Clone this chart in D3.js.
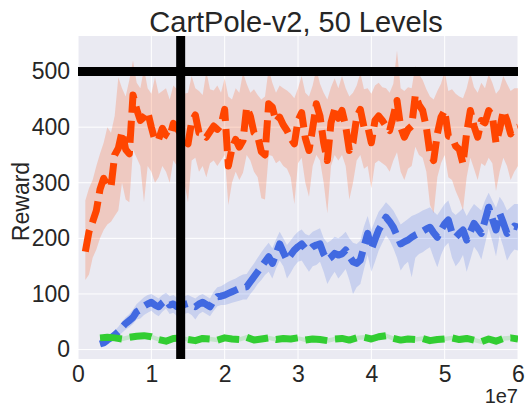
<!DOCTYPE html>
<html>
<head>
<meta charset="utf-8">
<script src="https://cdn.jsdelivr.net/npm/d3@7"></script>
<style>
  html, body { margin: 0; padding: 0; background: #ffffff; }
  svg { display: block; }
  text { font-family: "Liberation Sans", Arial, sans-serif; fill: #262626; }
</style>
</head>
<body>
<svg id="chart" width="525" height="406"></svg>
<script>
// Evaluation steps, in millions of environment steps (half-million spacing)
const orangeSteps = d3.range(1, 60.25, 0.5);   // 1.0 .. 60.0
const blueSteps = d3.range(3, 60.25, 0.5);     // 3.0 .. 60.0
const greenSteps = d3.range(3, 60.5, 1);       // 3 .. 60

// Orange run: mean reward and spread
const orangeMean = [176,212,230,250,288,308,296,292,350,362,
  392,360,352,458,432,412,418,428,400,376,
  378,398,386,382,407,398,388,376,370,410,
  422,390,388,382,392,402,396,404,432,330,
  362,378,364,376,436,420,390,384,356,350,
  442,436,410,418,404,394,380,370,412,426,
  380,358,398,442,420,372,340,408,432,416,
  430,402,358,372,418,432,400,402,372,412,
  420,412,402,394,420,448,400,382,396,402,
  458,440,430,400,352,340,388,418,430,384,
  382,366,360,334,390,430,402,382,412,408,
  430,420,372,396,430,412,388,398,400];
const orangeHigh = [268,290,305,330,352,372,400,390,420,490,
  470,455,485,520,480,470,505,470,460,490,
  460,465,470,450,475,468,470,460,462,492,
  470,465,458,500,468,466,475,462,488,455,
  450,470,462,498,478,462,468,458,450,455,
  505,480,462,475,470,466,460,452,470,492,
  462,455,475,505,478,462,450,472,488,470,
  492,470,455,462,475,498,468,470,460,475,
  480,472,470,462,478,538,470,465,472,470,
  510,495,485,468,455,450,465,478,500,465,
  468,460,455,452,470,498,472,462,480,470,
  495,480,460,468,492,478,465,470,470];
const orangeLow = [125,135,165,180,200,215,225,230,240,250,
  300,270,265,360,345,330,265,330,320,300,
  310,330,320,300,340,330,320,300,265,340,
  345,320,330,310,335,340,330,340,350,260,
  300,320,305,318,350,340,320,310,272,270,
  350,348,335,340,330,325,310,262,335,345,
  300,275,330,350,340,300,245,330,350,340,
  350,330,270,300,340,350,325,330,290,335,
  340,335,330,320,340,355,320,305,325,330,
  365,350,345,320,260,245,310,335,350,310,
  305,285,270,250,310,345,325,305,335,330,
  345,335,285,320,345,330,305,320,330];

// Blue run
const blueMean = [10,12,17,21,26,32,40,47,52,58,
  68,72,78,82,85,80,77,84,89,80,
  82,77,76,81,83,79,77,82,85,81,
  77,88,95,96,98,101,104,107,110,112,
  113,122,131,140,149,158,167,155,172,190,
  175,161,170,179,185,190,182,179,185,188,
  190,172,161,166,173,170,172,179,168,158,
  155,161,185,209,180,198,215,226,238,230,
  220,205,190,194,197,202,206,209,213,217,
  220,210,202,215,226,233,210,202,209,215,
  197,212,227,218,209,232,256,235,215,245,
  228,209,215,222,220];
const blueHigh = [14,17,23,28,34,41,50,58,64,72,
  82,88,94,98,100,96,92,98,102,96,
  98,93,92,96,98,95,92,97,100,96,
  92,104,112,114,118,122,125,128,132,135,
  136,146,155,165,175,184,192,182,198,212,
  200,188,196,205,212,216,208,205,212,215,
  218,200,192,196,203,200,205,212,200,192,
  190,196,222,240,215,232,248,256,265,258,
  250,238,225,230,235,240,243,246,250,253,
  256,248,242,252,262,268,248,242,248,254,
  240,252,262,256,250,268,282,268,255,275,
  265,250,256,262,262];
const blueLow = [6,8,12,15,19,24,30,36,40,46,
  54,56,62,66,70,64,60,68,74,64,
  66,60,58,64,66,62,54,64,68,64,
  60,70,78,80,80,82,84,86,88,90,
  90,100,108,118,125,134,140,128,146,160,
  150,128,138,150,158,160,150,140,150,152,
  158,140,118,130,140,128,136,145,125,100,
  112,118,145,170,140,158,178,192,205,196,
  182,165,142,152,158,130,165,172,175,180,
  184,165,148,170,185,192,165,150,158,170,
  140,162,185,176,162,190,218,195,168,205,
  185,160,172,180,178];

// Green run
const greenMean = [21,22,21,19,22,24,25,23,
  18,15,20,21,18,16,20,19,17,21,
  19,18,22,17,19,21,18,20,19,21,
  17,19,18,16,19,20,17,21,22,19,
  23,25,20,17,19,18,20,16,18,19,
  21,18,20,17,14,19,15,20,21,19];
const greenHigh = [25,26,24,23,26,27,29,27,
  22,19,24,25,22,20,23,23,21,25,
  23,22,26,21,22,25,22,24,23,24,
  21,23,22,20,23,24,21,25,26,23,
  27,29,24,21,23,22,24,20,22,23,
  25,22,24,21,18,23,19,24,25,23];
const greenLow = [17,18,17,15,18,20,21,19,
  14,11,16,17,14,12,16,15,13,17,
  15,14,18,13,15,17,14,16,15,17,
  13,15,14,12,15,16,13,17,18,15,
  19,21,16,13,15,14,16,12,14,15,
  17,14,16,13,10,15,11,16,17,15];

// Axis ticks and reference markers
const xTicks = [0, 1e7, 2e7, 3e7, 4e7, 5e7, 6e7];
const yTicks = [0, 100, 200, 300, 400, 500];
const targetReward = 500;
const markerStep = 1.4e7;

const margin = {left: 78, right: 7, top: 36, bottom: 47};
const W = 525, H = 406;
const svg = d3.select("#chart");

const x = d3.scaleLinear().domain([0, 6e7]).range([margin.left, W - margin.right]);
const y = d3.scaleLinear().domain([-17, 564]).range([H - margin.bottom, margin.top]);

// Plot background
svg.append("rect")
  .attr("x", x.range()[0]).attr("y", y.range()[1])
  .attr("width", x.range()[1] - x.range()[0])
  .attr("height", y.range()[0] - y.range()[1])
  .attr("fill", "#EAEAF2");

// White grid
const grid = svg.append("g");
grid.selectAll(".gx").data(xTicks).join("line")
  .attr("x1", d => x(d)).attr("x2", d => x(d))
  .attr("y1", y.range()[1]).attr("y2", y.range()[0])
  .attr("stroke", "#ffffff").attr("stroke-width", 1);
grid.selectAll(".gy").data(yTicks).join("line")
  .attr("x1", x.range()[0]).attr("x2", x.range()[1])
  .attr("y1", d => y(d)).attr("y2", d => y(d))
  .attr("stroke", "#ffffff").attr("stroke-width", 1);

svg.append("clipPath").attr("id", "plotclip").append("rect")
  .attr("x", x.range()[0]).attr("y", y.range()[1])
  .attr("width", x.range()[1] - x.range()[0])
  .attr("height", y.range()[0] - y.range()[1]);

const plot = svg.append("g").attr("clip-path", "url(#plotclip)");

function build(steps, mean, lo, hi) {
  return steps.map((s, i) => ({t: s * 1e6, m: mean[i], lo: lo[i], hi: hi[i]}));
}

const series = [
  {data: build(orangeSteps, orangeMean, orangeLow, orangeHigh), color: "#FF4500"},
  {data: build(blueSteps, blueMean, blueLow, blueHigh), color: "#4169E1"},
  {data: build(greenSteps, greenMean, greenLow, greenHigh), color: "#32CD32"}
];

const area = d3.area().x(d => x(d.t)).y0(d => y(d.lo)).y1(d => y(d.hi));
const line = d3.line().x(d => x(d.t)).y(d => y(d.m));

series.forEach(s => {
  plot.append("path").datum(s.data)
    .attr("d", area)
    .attr("fill", s.color).attr("fill-opacity", 0.2).attr("stroke", "none");
});
series.forEach(s => {
  plot.append("path").datum(s.data)
    .attr("d", line)
    .attr("fill", "none")
    .attr("stroke", s.color).attr("stroke-width", 7)
    .attr("stroke-dasharray", "22,8")
    .attr("stroke-linejoin", "round");
});

// Reference lines: maximum reward and marked step
plot.append("line")
  .attr("x1", x.range()[0]).attr("x2", x.range()[1])
  .attr("y1", y(targetReward)).attr("y2", y(targetReward))
  .attr("stroke", "#000").attr("stroke-width", 9);
plot.append("line")
  .attr("x1", x(markerStep)).attr("x2", x(markerStep))
  .attr("y1", y.range()[1]).attr("y2", y.range()[0])
  .attr("stroke", "#000").attr("stroke-width", 9);

// Axes
const xAxis = d3.axisBottom(x).tickValues(xTicks).tickSize(0).tickPadding(7)
  .tickFormat(d => String(d / 1e7));
const yAxis = d3.axisLeft(y).tickValues(yTicks).tickSize(0).tickPadding(8)
  .tickFormat(d3.format("d"));

const gx = svg.append("g").attr("transform", `translate(0,${y.range()[0]})`).call(xAxis);
const gy = svg.append("g").attr("transform", `translate(${x.range()[0]},0)`).call(yAxis);
[gx, gy].forEach(g => {
  g.select(".domain").remove();
  g.selectAll("text")
    .style("font-family", "'Liberation Sans', Arial, sans-serif")
    .style("font-size", "23px").attr("fill", "#262626");
});

// Offset label for x axis
svg.append("text")
  .attr("x", x.range()[1]).attr("y", 403)
  .attr("text-anchor", "end")
  .style("font-size", "20px")
  .text("1e7");

// Y label
svg.append("text")
  .attr("transform", `translate(29,${(y.range()[0] + y.range()[1]) / 2 + 4}) rotate(-90)`)
  .attr("text-anchor", "middle")
  .style("font-size", "23px")
  .text("Reward");

// Title
svg.append("text")
  .attr("x", (x.range()[0] + x.range()[1]) / 2 - 2).attr("y", 32)
  .attr("text-anchor", "middle")
  .style("font-size", "29px")
  .text("CartPole-v2, 50 Levels");
</script>
</body>
</html>
